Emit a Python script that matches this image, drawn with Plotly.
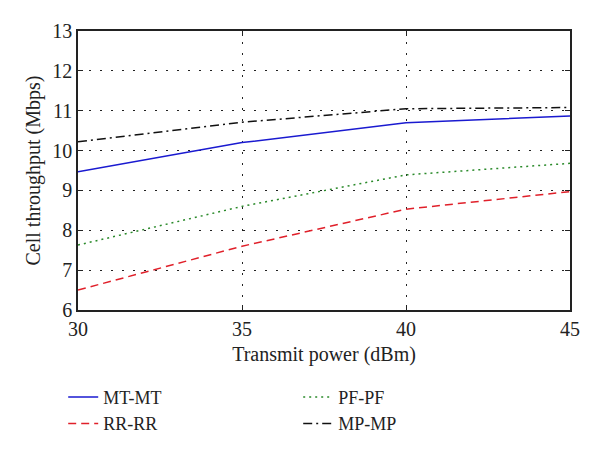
import plotly.graph_objects as go

power = [30, 35, 40, 45]
mt_mt = [9.47, 10.2, 10.7, 10.87]
rr_rr = [6.5, 7.6, 8.53, 8.97]
pf_pf = [7.63, 8.6, 9.39, 9.68]
mp_mp = [10.22, 10.71, 11.05, 11.08]

x_ticks = [30, 35, 40, 45]
y_ticks = [6, 7, 8, 9, 10, 11, 12, 13]

font_family = "Liberation Serif, DejaVu Serif, serif"

fig = go.Figure()
# order for two-column row-wise legend: MT-MT, PF-PF / RR-RR, MP-MP
fig.add_trace(go.Scatter(x=power, y=mt_mt, mode="lines", name="MT-MT",
                         line=dict(color="#1a1ad0", width=1.5, dash="solid")))
fig.add_trace(go.Scatter(x=power, y=pf_pf, mode="lines", name="PF-PF",
                         line=dict(color="#2a8a2a", width=1.5, dash="2px,4px")))
fig.add_trace(go.Scatter(x=power, y=rr_rr, mode="lines", name="RR-RR",
                         line=dict(color="#e0202a", width=1.5, dash="8px,5px")))
fig.add_trace(go.Scatter(x=power, y=mp_mp, mode="lines", name="MP-MP",
                         line=dict(color="#111111", width=1.5, dash="9px,4px,2px,4px")))

axis_common = dict(
    showline=True, linecolor="#222222", linewidth=1.5, mirror="ticks",
    ticks="inside", ticklen=5, tickcolor="#222222",
    showgrid=True, gridcolor="#222222", gridwidth=1, griddash="2px,9px",
    zeroline=False,
    tickfont=dict(family=font_family, size=20, color="#222222"),
)

fig.update_xaxes(range=[30, 45], tickvals=x_ticks,
                 title=dict(text="Transmit power (dBm)", standoff=8,
                            font=dict(family=font_family, size=20, color="#222222")),
                 **axis_common)
fig.update_yaxes(range=[6, 13], tickvals=y_ticks,
                 title=dict(text="Cell throughput (Mbps)", standoff=6,
                            font=dict(family=font_family, size=20, color="#222222")),
                 **axis_common)

fig.update_layout(
    width=600, height=455,
    margin=dict(l=70, r=38, t=23, b=153, autoexpand=False),
    plot_bgcolor="white", paper_bgcolor="white",
    font=dict(family=font_family, color="#222222"),
    legend=dict(
        orientation="h", xref="container", yref="container",
        x=0.092, y=0.185, xanchor="left", yanchor="top",
        entrywidth=190, entrywidthmode="pixels",
        font=dict(family=font_family, size=18, color="#222222"),
        tracegroupgap=0, itemwidth=30,
    ),
)

fig.write_html("out.html")
